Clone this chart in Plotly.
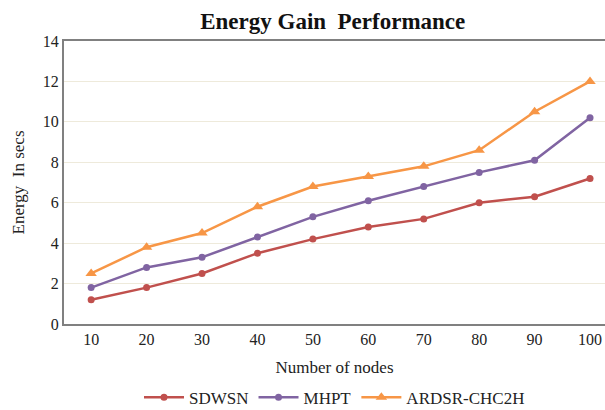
import plotly.graph_objects as go

nodes = [10, 20, 30, 40, 50, 60, 70, 80, 90, 100]
sdwsn = [1.2, 1.8, 2.5, 3.5, 4.2, 4.8, 5.2, 6.0, 6.3, 7.2]
mhpt = [1.8, 2.8, 3.3, 4.3, 5.3, 6.1, 6.8, 7.5, 8.1, 10.2]
ardsr = [2.5, 3.8, 4.5, 5.8, 6.8, 7.3, 7.8, 8.6, 10.5, 12.0]
y_ticks = [0, 2, 4, 6, 8, 10, 12, 14]

serif = "Liberation Serif"

fig = go.Figure()
fig.add_trace(go.Scatter(x=nodes, y=sdwsn, name="SDWSN", mode="lines+markers",
                         line=dict(color="#C0504D", width=2.5),
                         marker=dict(symbol="circle", size=7, color="#C0504D")))
fig.add_trace(go.Scatter(x=nodes, y=mhpt, name="MHPT", mode="lines+markers",
                         line=dict(color="#8064A2", width=2.5),
                         marker=dict(symbol="circle", size=7, color="#8064A2")))
fig.add_trace(go.Scatter(x=nodes, y=ardsr, name="ARDSR-CHC2H", mode="lines+markers",
                         line=dict(color="#F79646", width=2.5),
                         marker=dict(symbol="triangle-up", size=10, color="#F79646")))

fig.update_layout(
    width=605, height=410,
    margin=dict(l=64, r=0, t=41, b=86),
    paper_bgcolor="white", plot_bgcolor="white",
    title=dict(text="<b>Energy Gain  Performance</b>", x=0.55, xanchor="center",
               y=0.95, yanchor="middle",
               font=dict(family=serif, size=23, color="#111111")),
    font=dict(family=serif, size=16, color="#222222"),
    xaxis=dict(range=[5.1, 102.7], tickvals=nodes, ticktext=[str(n) for n in nodes],
               showgrid=False, zeroline=False, showline=True, mirror=True,
               linecolor="#808080", linewidth=2, ticks="", automargin=False,
               title=dict(text="Number of nodes", font=dict(family=serif, size=17), standoff=14),
               tickfont=dict(family=serif, size=16)),
    yaxis=dict(range=[0, 14], tickvals=y_ticks, showgrid=True, gridcolor="#EEEADB",
               gridwidth=1, zeroline=False, showline=True, linecolor="#808080",
               linewidth=2, ticks="", automargin=False,
               title=dict(text="Energy  In secs", font=dict(family=serif, size=17), standoff=14),
               tickfont=dict(family=serif, size=16)),
    legend=dict(orientation="h", x=0.5, xanchor="center", yref="container",
                y=0.03, yanchor="middle",
                font=dict(family=serif, size=17), itemwidth=40, tracegroupgap=0),
)

fig.write_html("out.html")
